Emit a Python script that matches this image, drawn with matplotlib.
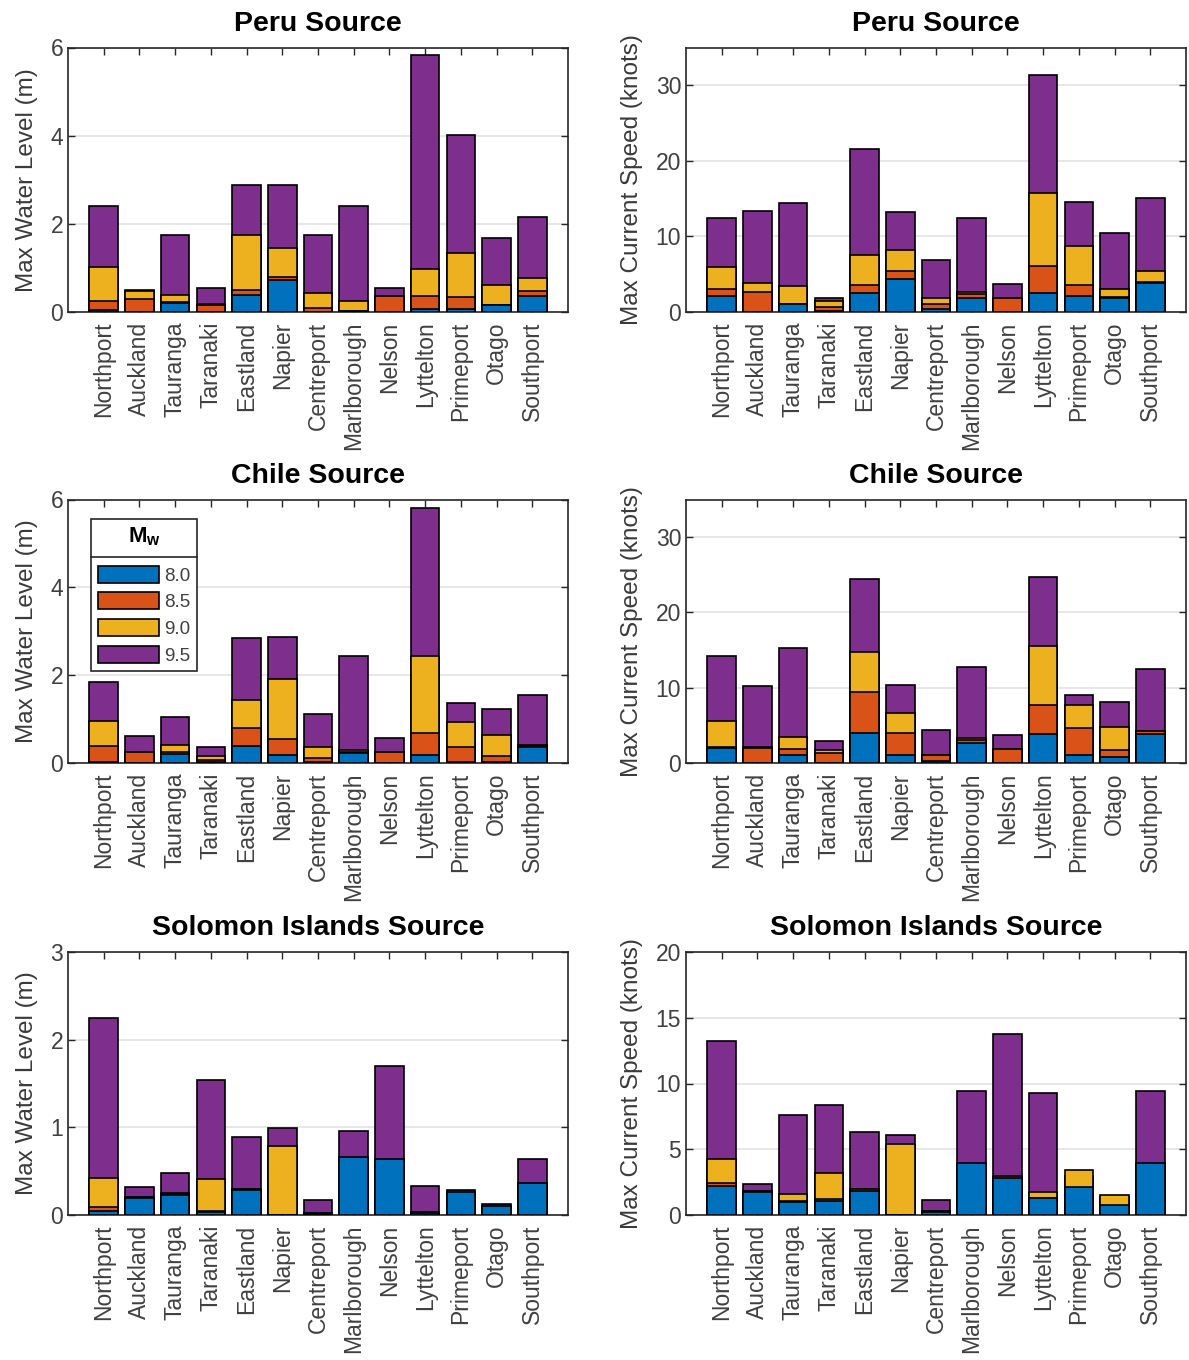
import numpy as np
import matplotlib.pyplot as plt
from matplotlib.patches import Patch
from matplotlib.lines import Line2D

plt.rcParams['font.family'] = ['Liberation Sans', 'DejaVu Sans']
plt.rcParams['mathtext.fontset'] = 'custom'
plt.rcParams['mathtext.bf'] = 'Liberation Sans:bold'
plt.rcParams['mathtext.rm'] = 'Liberation Sans'

ports = ['Northport', 'Auckland', 'Tauranga', 'Taranaki', 'Eastland', 'Napier',
         'Centreport', 'Marlborough', 'Nelson', 'Lyttelton', 'Primeport', 'Otago', 'Southport']
magnitudes = ['8.0', '8.5', '9.0', '9.5']
colors = ['#0072BD', '#D95319', '#EDB120', '#7E2F8E']

# Peru source - max water level (m)
peru_wl_80 = [0.04, 0.01, 0.21, 0.01, 0.39, 0.72, 0.01, 0.02, 0.00, 0.07, 0.07, 0.15, 0.36]
peru_wl_85 = [0.24, 0.29, 0.22, 0.16, 0.50, 0.80, 0.08, 0.03, 0.36, 0.36, 0.33, 0.16, 0.48]
peru_wl_90 = [1.03, 0.47, 0.39, 0.19, 1.75, 1.46, 0.42, 0.24, 0.37, 0.97, 1.33, 0.61, 0.78]
peru_wl_95 = [2.40, 0.50, 1.75, 0.54, 2.88, 2.88, 1.75, 2.40, 0.54, 5.83, 4.02, 1.68, 2.15]

# Peru source - max current speed (knots)
peru_cs_80 = [2.1, 0.0, 1.06, 0.1, 2.5, 4.4, 0.44, 1.86, 0.0, 2.5, 2.1, 1.86, 3.9]
peru_cs_85 = [3.1, 2.7, 1.1, 0.7, 3.6, 5.4, 1.06, 2.4, 1.86, 6.1, 3.6, 2.0, 4.0]
peru_cs_90 = [6.0, 3.9, 3.5, 1.4, 7.5, 8.2, 1.86, 2.7, 1.9, 15.7, 8.75, 3.1, 5.4]
peru_cs_95 = [12.5, 13.4, 14.4, 1.8, 21.6, 13.2, 6.9, 12.5, 3.76, 31.4, 14.5, 10.4, 15.1]

# Chile source - max water level (m)
chile_wl_80 = [0.02, 0.00, 0.20, 0.03, 0.39, 0.18, 0.02, 0.22, 0.00, 0.18, 0.03, 0.03, 0.36]
chile_wl_85 = [0.39, 0.25, 0.24, 0.07, 0.80, 0.55, 0.11, 0.26, 0.25, 0.68, 0.36, 0.17, 0.39]
chile_wl_90 = [0.96, 0.26, 0.42, 0.17, 1.43, 1.91, 0.36, 0.30, 0.26, 2.44, 0.93, 0.64, 0.40]
chile_wl_95 = [1.84, 0.61, 1.04, 0.36, 2.85, 2.88, 1.12, 2.44, 0.58, 5.80, 1.37, 1.23, 1.55]

# Chile source - max current speed (knots)
chile_cs_80 = [1.94, 0.0, 1.1, 0.0, 4.0, 1.1, 0.26, 2.7, 0.0, 3.8, 1.1, 0.84, 3.8]
chile_cs_85 = [2.1, 2.03, 1.85, 1.3, 9.4, 4.0, 1.1, 3.0, 1.9, 7.7, 4.6, 1.7, 4.23]
chile_cs_90 = [5.56, 2.1, 3.4, 1.7, 14.8, 6.7, 1.1, 3.35, 1.9, 15.5, 7.7, 4.8, 4.2]
chile_cs_95 = [14.2, 10.2, 15.3, 2.9, 24.5, 10.4, 4.4, 12.8, 3.75, 24.7, 9.0, 8.16, 12.5]

# Solomon Islands source - max water level (m)
solomon_wl_80 = [0.05, 0.19, 0.23, 0.03, 0.29, 0.00, 0.01, 0.66, 0.64, 0.02, 0.26, 0.10, 0.37]
solomon_wl_85 = [0.095, 0.20, 0.24, 0.05, 0.30, 0.00, 0.02, 0.00, 0.00, 0.03, 0.00, 0.00, 0.00]
solomon_wl_90 = [0.42, 0.21, 0.25, 0.41, 0.30, 0.79, 0.02, 0.00, 0.00, 0.03, 0.00, 0.00, 0.00]
solomon_wl_95 = [2.25, 0.32, 0.48, 1.54, 0.89, 0.99, 0.17, 0.96, 1.70, 0.33, 0.28, 0.13, 0.64]

# Solomon Islands source - max current speed (knots)
solomon_cs_80 = [2.23, 1.72, 1.01, 1.04, 1.85, 0.0, 0.2, 3.92, 2.84, 1.27, 2.1, 0.78, 3.92]
solomon_cs_85 = [2.45, 1.8, 1.05, 1.2, 2.0, 0.0, 0.33, 0.0, 3.0, 1.3, 0.0, 0.0, 0.0]
solomon_cs_90 = [4.25, 1.8, 1.6, 3.2, 2.0, 5.37, 0.33, 0.0, 3.0, 1.77, 3.44, 1.54, 0.0]
solomon_cs_95 = [13.2, 2.35, 7.6, 8.35, 6.33, 6.08, 1.14, 9.44, 13.75, 9.24, 3.0, 1.4, 9.44]

W, H = 1189, 1360
fig = plt.figure(figsize=(W / 100, H / 100), dpi=100)


def make_axes(left, top, right, bottom):
    return fig.add_axes([left / W, 1 - bottom / H, (right - left) / W, (bottom - top) / H])


def draw_panel(ax, series, title, ylabel, ymax, yticks):
    x = np.arange(1, len(ports) + 1)
    # largest magnitude goes at the back, smaller ones overlay it
    for k in range(len(series) - 1, -1, -1):
        ax.bar(x, series[k], width=0.8, color=colors[k], edgecolor='black',
               linewidth=1.2, zorder=3 + (3 - k))
    ax.set_xlim(0, len(ports) + 1)
    ax.set_ylim(0, ymax)
    ax.set_yticks(yticks)
    ax.set_xticks(x, ports, rotation=90)
    ax.yaxis.grid(True, color='#e3e3e3', linewidth=1.2)
    ax.set_axisbelow(True)
    ax.tick_params(direction='in', top=True, right=True, length=5, width=1,
                   color='#262626', labelcolor='#404040', labelsize=16.5)
    ax.tick_params(axis='x', pad=7)
    for s in ax.spines.values():
        s.set_color('#262626')
        s.set_linewidth(1.2)
    ax.set_title(title, fontsize=20.5, fontweight='bold', pad=12)
    ax.set_ylabel(ylabel, fontsize=17.5, color='#3a3a3a', labelpad=9)


ax1 = make_axes(68, 47.5, 568, 312)
ax2 = make_axes(686, 47.5, 1186, 312)
ax3 = make_axes(68, 499.5, 568, 763)
ax4 = make_axes(686, 499.5, 1186, 763)
ax5 = make_axes(68, 952, 568, 1215)
ax6 = make_axes(686, 952, 1186, 1215)

draw_panel(ax1, [peru_wl_80, peru_wl_85, peru_wl_90, peru_wl_95],
           'Peru Source', 'Max Water Level (m)', 6, [0, 2, 4, 6])
draw_panel(ax2, [peru_cs_80, peru_cs_85, peru_cs_90, peru_cs_95],
           'Peru Source', 'Max Current Speed (knots)', 35, [0, 10, 20, 30])
draw_panel(ax3, [chile_wl_80, chile_wl_85, chile_wl_90, chile_wl_95],
           'Chile Source', 'Max Water Level (m)', 6, [0, 2, 4, 6])
draw_panel(ax4, [chile_cs_80, chile_cs_85, chile_cs_90, chile_cs_95],
           'Chile Source', 'Max Current Speed (knots)', 35, [0, 10, 20, 30])
draw_panel(ax5, [solomon_wl_80, solomon_wl_85, solomon_wl_90, solomon_wl_95],
           'Solomon Islands Source', 'Max Water Level (m)', 3, [0, 1, 2, 3])
draw_panel(ax6, [solomon_cs_80, solomon_cs_85, solomon_cs_90, solomon_cs_95],
           'Solomon Islands Source', 'Max Current Speed (knots)', 20, [0, 5, 10, 15, 20])

# magnitude legend in the Chile water-level panel
handles = [Patch(facecolor=c, edgecolor='black', linewidth=1.2) for c in colors]
leg = ax3.legend(handles, magnitudes, title=r'$\mathbf{M_w}$', loc='upper left',
                 bbox_to_anchor=(0.046, 0.925), borderaxespad=0, fontsize=13.5,
                 title_fontsize=16, handlelength=3.3, handleheight=1.0,
                 handletextpad=0.25, labelspacing=0.42, borderpad=0.35,
                 fancybox=False, edgecolor='#262626', framealpha=1)
leg._legend_box.sep = 12.5  # extra room under the title for the divider
leg.get_frame().set_linewidth(1.2)
for t in leg.get_texts():
    t.set_color('#404040')
leg.set_zorder(20)

# separator line between legend title and entries
fig.canvas.draw()
inv = fig.transFigure.inverted()
lb = leg.get_window_extent()
tb = leg.get_title().get_window_extent()
entries_top = max(h.get_window_extent().y1 for h in leg.legend_handles)
ysep = (tb.y0 + entries_top) / 2
p0 = inv.transform((lb.x0, ysep))
p1 = inv.transform((lb.x1, ysep))
fig.add_artist(Line2D([p0[0], p1[0]], [p0[1], p1[1]], transform=fig.transFigure,
                      color='#262626', linewidth=1.2, zorder=30))

fig.savefig('out.png', dpi=100)
